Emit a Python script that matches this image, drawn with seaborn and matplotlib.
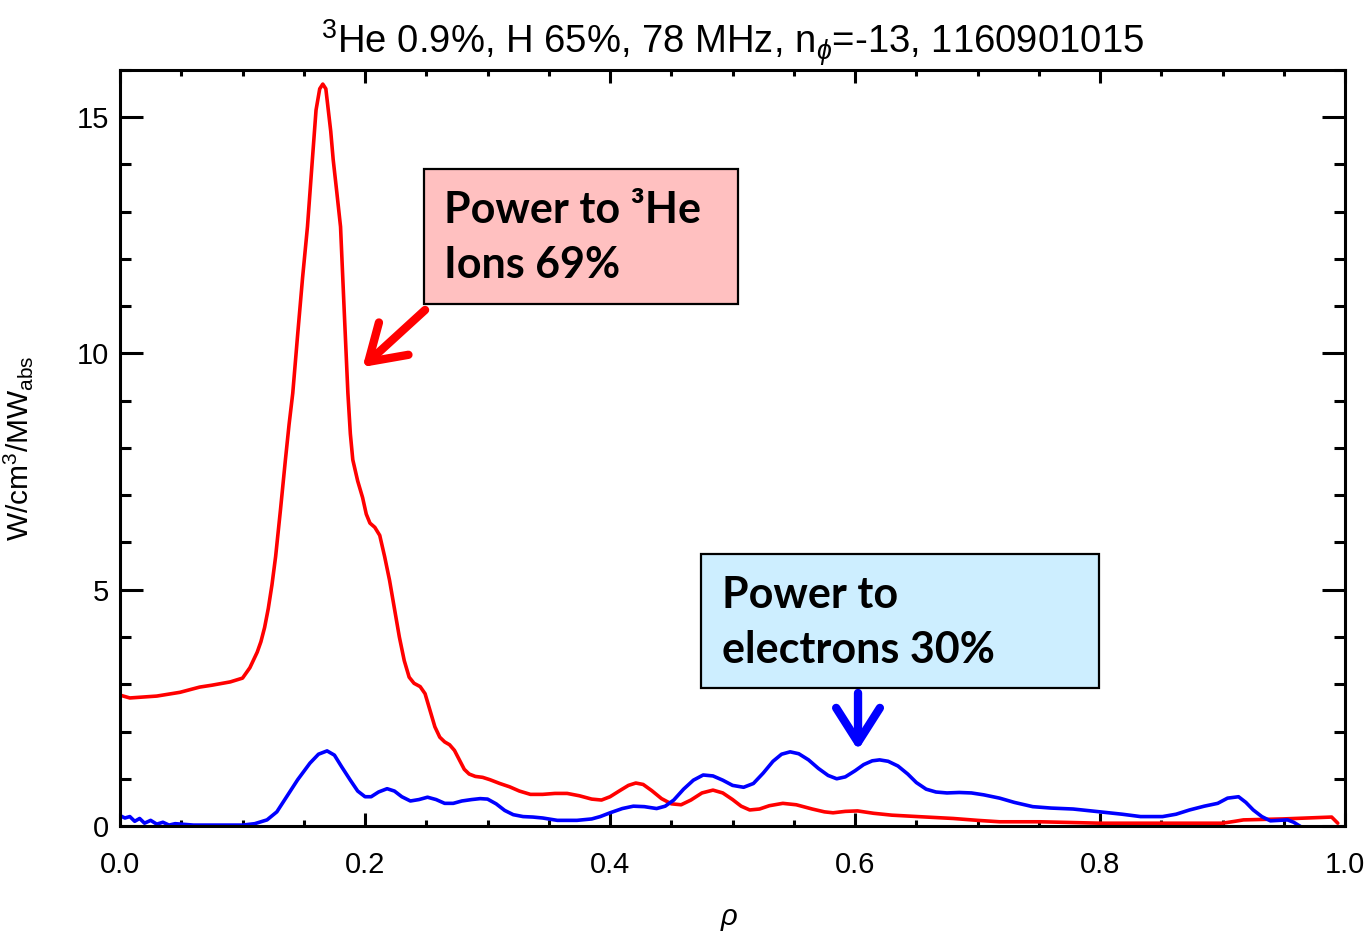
import numpy as np
import pandas as pd
import matplotlib
matplotlib.use("Agg")
import matplotlib.pyplot as plt
import seaborn as sns
from matplotlib.ticker import MultipleLocator, FormatStrFormatter
from matplotlib.patches import Rectangle

# power deposition profiles
rho_ions = [0.0, 0.008, 0.03, 0.049, 0.065, 0.075, 0.09, 0.1, 0.106, 0.112, 0.115,
            0.118, 0.121, 0.124, 0.127, 0.131, 0.135, 0.138, 0.141, 0.145, 0.149,
            0.153, 0.157, 0.160, 0.163, 0.1655, 0.168, 0.170, 0.172, 0.174, 0.177,
            0.180, 0.183, 0.186, 0.188, 0.190, 0.194, 0.198, 0.201, 0.204, 0.208,
            0.212, 0.216, 0.220, 0.224, 0.228, 0.232, 0.236, 0.240, 0.245, 0.249,
            0.253, 0.257, 0.261, 0.265, 0.269, 0.273, 0.277, 0.281, 0.285, 0.290,
            0.296, 0.302, 0.310, 0.318, 0.326, 0.335, 0.345, 0.355, 0.365, 0.375,
            0.385, 0.393, 0.400, 0.408, 0.415, 0.421, 0.427, 0.434, 0.442, 0.450,
            0.458, 0.466, 0.475, 0.484, 0.492, 0.500, 0.507, 0.514, 0.522, 0.530,
            0.541, 0.552, 0.565, 0.575, 0.582, 0.592, 0.602, 0.615, 0.630, 0.651,
            0.680, 0.700, 0.718, 0.751, 0.800, 0.847, 0.900, 0.910, 0.917, 0.949,
            0.969, 0.989, 0.994]
p_ions = [2.77, 2.71, 2.75, 2.83, 2.94, 2.98, 3.05, 3.13, 3.35, 3.68, 3.9,
          4.2, 4.6, 5.1, 5.7, 6.7, 7.75, 8.5, 9.16, 10.4, 11.6,
          12.68, 14.1, 15.15, 15.6, 15.7, 15.6, 15.15, 14.7, 14.1, 13.4,
          12.68, 10.9, 9.16, 8.3, 7.75, 7.3, 6.95, 6.6, 6.41, 6.32,
          6.15, 5.7, 5.2, 4.6, 4.0, 3.5, 3.15, 3.02, 2.95, 2.8,
          2.45, 2.1, 1.88, 1.78, 1.72, 1.6, 1.4, 1.2, 1.1, 1.05,
          1.03, 0.98, 0.9, 0.83, 0.74, 0.67, 0.67, 0.69, 0.69, 0.64,
          0.57, 0.55, 0.62, 0.75, 0.86, 0.91, 0.88, 0.75, 0.58, 0.47,
          0.45, 0.55, 0.70, 0.76, 0.70, 0.56, 0.42, 0.34, 0.36, 0.43,
          0.48, 0.45, 0.36, 0.30, 0.28, 0.31, 0.32, 0.27, 0.23, 0.20,
          0.16, 0.12, 0.09, 0.09, 0.06, 0.06, 0.06, 0.10, 0.13, 0.15,
          0.17, 0.19, 0.06]

rho_elec = [0.0, 0.004, 0.008, 0.012, 0.016, 0.02, 0.025, 0.03, 0.035, 0.04, 0.045,
            0.06, 0.1, 0.11, 0.12, 0.128, 0.136, 0.145, 0.155, 0.162, 0.169,
            0.175, 0.181, 0.188, 0.194, 0.200, 0.205, 0.211, 0.218, 0.224, 0.230,
            0.237, 0.244, 0.251, 0.258, 0.265, 0.272, 0.279, 0.287, 0.294, 0.300,
            0.307, 0.314, 0.321, 0.329, 0.337, 0.345, 0.357, 0.373, 0.385, 0.392,
            0.400, 0.410, 0.419, 0.428, 0.438, 0.445, 0.452, 0.460, 0.468, 0.476,
            0.484, 0.492, 0.500, 0.509, 0.517, 0.525, 0.533, 0.540, 0.547, 0.554,
            0.562, 0.570, 0.578, 0.585, 0.592, 0.600, 0.607, 0.614, 0.620, 0.627,
            0.635, 0.643, 0.650, 0.658, 0.666, 0.675, 0.685, 0.695, 0.705, 0.718,
            0.730, 0.745, 0.760, 0.778, 0.800, 0.818, 0.833, 0.851, 0.862, 0.873,
            0.885, 0.896, 0.904, 0.913, 0.919, 0.925, 0.932, 0.939, 0.946, 0.953,
            0.958, 0.963, 0.975]
p_elec = [0.22, 0.17, 0.20, 0.10, 0.16, 0.06, 0.12, 0.04, 0.08, 0.02, 0.05,
          0.02, 0.02, 0.05, 0.13, 0.30, 0.62, 0.98, 1.33, 1.52, 1.59,
          1.50, 1.25, 0.97, 0.74, 0.62, 0.62, 0.72, 0.79, 0.74, 0.62,
          0.53, 0.56, 0.61, 0.56, 0.48, 0.48, 0.53, 0.56, 0.58, 0.57,
          0.47, 0.33, 0.24, 0.20, 0.19, 0.17, 0.12, 0.12, 0.15, 0.20,
          0.28, 0.37, 0.42, 0.41, 0.37, 0.42, 0.55, 0.78, 0.97, 1.08,
          1.06, 0.97, 0.86, 0.82, 0.90, 1.12, 1.37, 1.52, 1.57, 1.53,
          1.40, 1.22, 1.07, 1.00, 1.04, 1.17, 1.30, 1.38, 1.40, 1.37,
          1.27, 1.10, 0.92, 0.78, 0.72, 0.70, 0.71, 0.70, 0.66, 0.59,
          0.50, 0.41, 0.38, 0.36, 0.30, 0.25, 0.20, 0.20, 0.25, 0.34,
          0.42, 0.48, 0.59, 0.62, 0.50, 0.34, 0.20, 0.11, 0.12, 0.13,
          0.08, 0.0, -0.2]

title = r"$^3$He 0.9%, H 65%, 78 MHz, n$_\phi$=-13, 1160901015"

sns.set_style("white")
plt.rcParams["font.family"] = ["Liberation Sans", "DejaVu Sans"]
plt.rcParams["mathtext.fontset"] = "custom"
plt.rcParams["mathtext.rm"] = "Liberation Sans"
plt.rcParams["mathtext.it"] = "Liberation Sans:italic"
plt.rcParams["mathtext.bf"] = "Liberation Sans:bold"
for key in ["text.color", "axes.labelcolor", "xtick.color", "ytick.color"]:
    plt.rcParams[key] = "black"

df = pd.concat([
    pd.DataFrame({"rho": rho_ions, "power": p_ions, "species": "ions"}),
    pd.DataFrame({"rho": rho_elec, "power": p_elec, "species": "electrons"}),
])

fig = plt.figure(figsize=(13.67, 9.32), dpi=100)
ax = fig.add_axes([0.0878, 0.1137, 0.8962, 0.8113])

sns.lineplot(data=df, x="rho", y="power", hue="species", sort=False, estimator=None,
             palette={"ions": "#ff0000", "electrons": "#0000ff"}, linewidth=2.6,
             legend=False, ax=ax)

ax.set_xlim(0, 1.0)
ax.set_ylim(0, 16)
ax.xaxis.set_major_locator(MultipleLocator(0.2))
ax.xaxis.set_minor_locator(MultipleLocator(0.05))
ax.xaxis.set_major_formatter(FormatStrFormatter("%.1f"))
ax.yaxis.set_major_locator(MultipleLocator(5))
ax.yaxis.set_minor_locator(MultipleLocator(1))
ax.tick_params(which="both", direction="in", top=True, right=True, bottom=True,
               left=True, width=2.2, labelsize=21, color="black", labelcolor="black")
ax.tick_params(axis="x", which="major", length=9.5, pad=18)
ax.tick_params(axis="x", which="minor", length=4.5)
ax.tick_params(axis="y", which="major", length=16.5, pad=8)
ax.tick_params(axis="y", which="minor", length=8)
for sp in ax.spines.values():
    sp.set_linewidth(2.2)
    sp.set_color("black")

ax.set_title(title, fontsize=27.5, pad=12, color="black")
ax.set_xlabel(r"$\rho$", fontsize=21)
ax.xaxis.set_label_coords(0.497, -0.105)
ax.set_ylabel(r"W/cm$^3$/MW$_{\mathrm{abs}}$", fontsize=21.5)
ax.yaxis.set_label_coords(-0.069, 0.5)

# annotation boxes
ax.add_patch(Rectangle((0.248, 0.690), 0.2565, 0.179, transform=ax.transAxes,
                       facecolor="#ffc0c0", edgecolor="black", lw=1.6, zorder=5))
ax.add_patch(Rectangle((0.474, 0.1825), 0.325, 0.1775, transform=ax.transAxes,
                       facecolor="#cdeeff", edgecolor="black", lw=1.6, zorder=5))
box_font = dict(family=["Lato", "DejaVu Sans"], fontweight="bold", fontsize=31,
                color="black", transform=ax.transAxes, va="baseline", ha="left",
                zorder=6)
ax.text(0.2645, 0.798, "Power to \u00b3He", **box_font)
ax.text(0.2645, 0.725, "Ions 69%", **box_font)
ax.text(0.491, 0.288, "Power to", **box_font)
ax.text(0.491, 0.2156, "electrons 30%", **box_font)

ax.annotate("", xy=(0.198, 0.607), xytext=(0.249, 0.6825),
            xycoords="axes fraction", textcoords="axes fraction",
            arrowprops=dict(arrowstyle="->,head_length=0.55,head_width=0.35",
                            color="#ff0000", lw=6, mutation_scale=45,
                            shrinkA=0, shrinkB=0))
ax.annotate("", xy=(0.6024, 0.1005), xytext=(0.6024, 0.176),
            xycoords="axes fraction", textcoords="axes fraction",
            arrowprops=dict(arrowstyle="->,head_length=0.55,head_width=0.35",
                            color="#0000ff", lw=6, mutation_scale=45,
                            shrinkA=0, shrinkB=0))

fig.savefig("out.png", dpi=100)
